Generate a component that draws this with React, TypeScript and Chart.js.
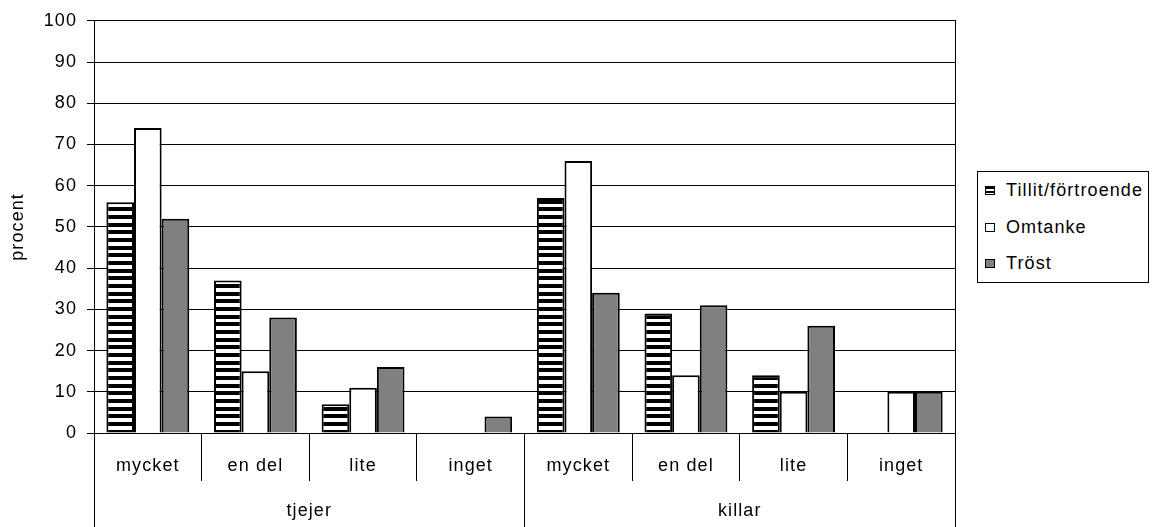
import React, { useEffect, useRef } from 'react';
import { Chart, registerables } from 'chart.js';

Chart.register(...registerables);

// ---- data ----
const categories = ['mycket', 'en del', 'lite', 'inget', 'mycket', 'en del', 'lite', 'inget'];
const groups = ['tjejer', 'killar'];
const seriesNames = ['Tillit/förtroende', 'Omtanke', 'Tröst'];
const tillit = [56, 37, 7, 0, 57, 29, 14, 0];
const omtanke = [74, 15, 11, 0, 66, 14, 10, 10];
const trost = [52, 28, 16, 4, 34, 31, 26, 10];
const yMin = 0;
const yMax = 100;
const yStep = 10;
const yTitle = 'procent';

const FONT = "'Liberation Sans', Arial, sans-serif";
const FONT_SIZE = 18;
const SPACING = '1.1px';
const GRAY = '#808080';

function makeStripePattern(ctx: CanvasRenderingContext2D): CanvasPattern | string {
  const c = document.createElement('canvas');
  c.width = 4;
  c.height = 23;
  const g = c.getContext('2d');
  if (!g) return '#000';
  g.fillStyle = '#fff';
  g.fillRect(0, 0, 4, 23);
  g.fillStyle = '#000';
  g.fillRect(0, 0, 4, 4);
  g.fillRect(0, 8, 4, 4);
  g.fillRect(0, 16, 4, 4);
  const p = ctx.createPattern(c, 'repeat');
  return p || '#000';
}

const spacingPlugin = {
  id: 'letterSpacing',
  beforeDraw(chart: any) {
    chart.ctx.letterSpacing = SPACING;
  },
};

const swatchStyles: React.CSSProperties[] = [
  { background: 'repeating-linear-gradient(to bottom, #000 0px, #000 2px, #fff 2px, #fff 4px)' },
  { background: '#fff' },
  { background: GRAY },
];

export default function App() {
  const ref = useRef<HTMLCanvasElement>(null);

  useEffect(() => {
    const canvas = ref.current;
    if (!canvas) return;
    const ctx = canvas.getContext('2d');
    if (!ctx) return;
    const stripes = makeStripePattern(ctx);
    const font = { family: FONT, size: FONT_SIZE };

    const chart = new Chart(canvas, {
      type: 'bar',
      data: {
        labels: categories,
        datasets: [
          { label: seriesNames[0], data: tillit, backgroundColor: stripes as any, borderColor: '#000', borderWidth: 2 },
          { label: seriesNames[1], data: omtanke, backgroundColor: '#fff', borderColor: '#000', borderWidth: 2 },
          { label: seriesNames[2], data: trost, backgroundColor: GRAY, borderColor: '#000', borderWidth: 2 },
        ],
      },
      options: {
        responsive: false,
        animation: false,
        events: [],
        layout: { padding: { top: 20, right: 198, bottom: 0, left: 0 } },
        datasets: { bar: { categoryPercentage: 0.77, barPercentage: 1 } },
        plugins: {
          legend: { display: false },
          tooltip: { enabled: false },
        },
        scales: {
          x: {
            type: 'category',
            position: 'bottom',
            weight: 0,
            offset: true,
            grid: { display: true, offset: true, drawOnChartArea: false, drawTicks: true, tickLength: 48, color: '#000', lineWidth: 1 },
            border: { display: true, color: '#000', width: 1 },
            ticks: { autoSkip: false, maxRotation: 0, minRotation: 0, color: '#000', font, padding: -26 },
            afterFit: (s: any) => { s.height = 48; },
          },
          x2: {
            type: 'category',
            position: 'bottom',
            weight: 1,
            labels: groups,
            offset: true,
            grid: { display: true, offset: true, drawOnChartArea: false, drawTicks: true, tickLength: 46, color: '#000', lineWidth: 1 },
            border: { display: false },
            ticks: { autoSkip: false, maxRotation: 0, minRotation: 0, color: '#000', font, padding: -27 },
            afterFit: (s: any) => { s.height = 46; },
          },
          y: {
            type: 'linear',
            position: 'left',
            min: yMin,
            max: yMax,
            ticks: { stepSize: yStep, color: '#000', font, padding: 10 },
            grid: { color: '#000', lineWidth: 1, drawTicks: true, tickLength: 7, tickColor: '#000' },
            border: { display: true, color: '#000', width: 1 },
            title: { display: true, text: yTitle, color: '#000', font, padding: { top: 7, bottom: 0 } },
            afterFit: (s: any) => { s.width = 94; },
          },
          yRight: {
            type: 'linear',
            position: 'right',
            min: yMin,
            max: yMax,
            ticks: { display: false },
            grid: { display: false, drawOnChartArea: false, drawTicks: false },
            border: { display: true, color: '#000', width: 1 },
            afterFit: (s: any) => { s.width = 0; },
          },
        },
      } as any,
      plugins: [spacingPlugin],
    });
    return () => chart.destroy();
  }, []);

  const baselines = [196, 233, 269.5];

  return (
    <div style={{ position: 'fixed', left: 0, top: 0, width: 1153, height: 527, background: '#fff' }}>
      <canvas ref={ref} width={1153} height={527} style={{ display: 'block', width: 1153, height: 527 }} />
      <div
        style={{
          position: 'absolute',
          left: 977,
          top: 171,
          width: 172,
          height: 112,
          border: '1px solid #000',
          boxSizing: 'border-box',
          background: '#fff',
          fontFamily: FONT,
          fontSize: FONT_SIZE,
          letterSpacing: SPACING,
          color: '#000',
        }}
      >
        {seriesNames.map((name, i) => (
          <div
            key={name}
            style={{ position: 'absolute', left: 0, top: baselines[i] - 16.4 - 172, height: 21, lineHeight: '21px', whiteSpace: 'nowrap' }}
          >
            <span
              style={{
                position: 'absolute',
                left: 7,
                top: 6,
                width: 10,
                height: 9,
                border: '1.5px solid #000',
                boxSizing: 'border-box',
                ...swatchStyles[i],
              }}
            />
            <span style={{ position: 'absolute', left: 28, top: 0 }}>{name}</span>
          </div>
        ))}
      </div>
    </div>
  );
}
